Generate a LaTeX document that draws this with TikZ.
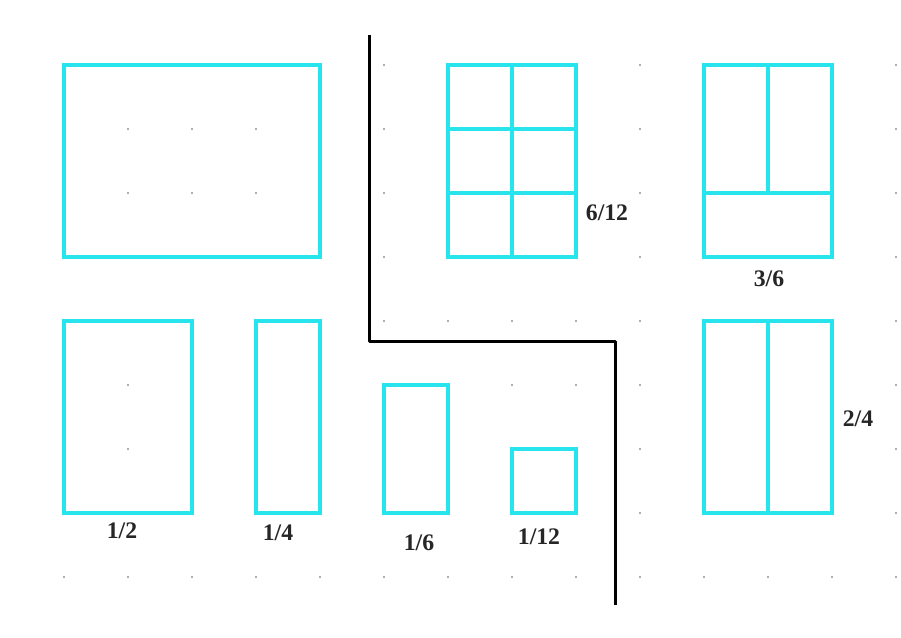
\documentclass[tikz,border=0pt]{standalone}
\usepackage{fontspec}
\setmainfont{Liberation Serif}
\usepackage{tikz}

\definecolor{fraccyan}{RGB}{40,228,236}
\definecolor{dotgray}{RGB}{150,150,150}

\begin{document}
\begin{tikzpicture}[
    x=0.02cm, y=-0.02cm,
    every node/.style={font=\fontsize{13.5}{16}\selectfont\bfseries},
    frac/.style={draw=fraccyan, line width=2.2pt, line join=miter},
    wall/.style={draw=black, line width=1.7pt, line join=round},
    gdot/.style={fill=dotgray},
    lbl/.style={inner sep=1pt, text=black!85},
  ]
  \useasboundingbox (0,0) rectangle (901,637);
  % dot grid
  \foreach \i in {0,...,13} {
    \foreach \j in {0,...,8} {
      \fill[gdot] (64+64*\i, 65+64*\j) circle (1.1);
    }
  }
  % whole
  \draw[frac] (64,65) rectangle (320,257);
  % 6/12
  \draw[frac] (448,65) rectangle (576,257);
  \draw[frac] (512,65) -- (512,257);
  \draw[frac] (448,129) -- (576,129);
  \draw[frac] (448,193) -- (576,193);
  \node[lbl] (l612) at (607,213) {6/12};
  % 3/6
  \draw[frac] (704,65) rectangle (832,257);
  \draw[frac] (768,65) -- (768,193);
  \draw[frac] (704,193) -- (832,193);
  \node[lbl] (l36) at (769,279) {3/6};
  % 1/2 and 1/4
  \draw[frac] (64,321) rectangle (192,513);
  \node[lbl] (l12) at (122,531) {1/2};
  \draw[frac] (256,321) rectangle (320,513);
  \node[lbl] (l14) at (278,533) {1/4};
  % 1/6 and 1/12
  \draw[frac] (384,385) rectangle (448,513);
  \node[lbl] (l16) at (419,543) {1/6};
  \draw[frac] (512,449) rectangle (576,513);
  \node[lbl] (l112) at (539,537) {1/12};
  % 2/4
  \draw[frac] (704,321) rectangle (832,513);
  \draw[frac] (768,321) -- (768,513);
  \node[lbl] (l24) at (858,419) {2/4};
  % dividing line
  \draw[wall] (369,35) |- (615,341) -- (615,605);
\end{tikzpicture}
\end{document}
